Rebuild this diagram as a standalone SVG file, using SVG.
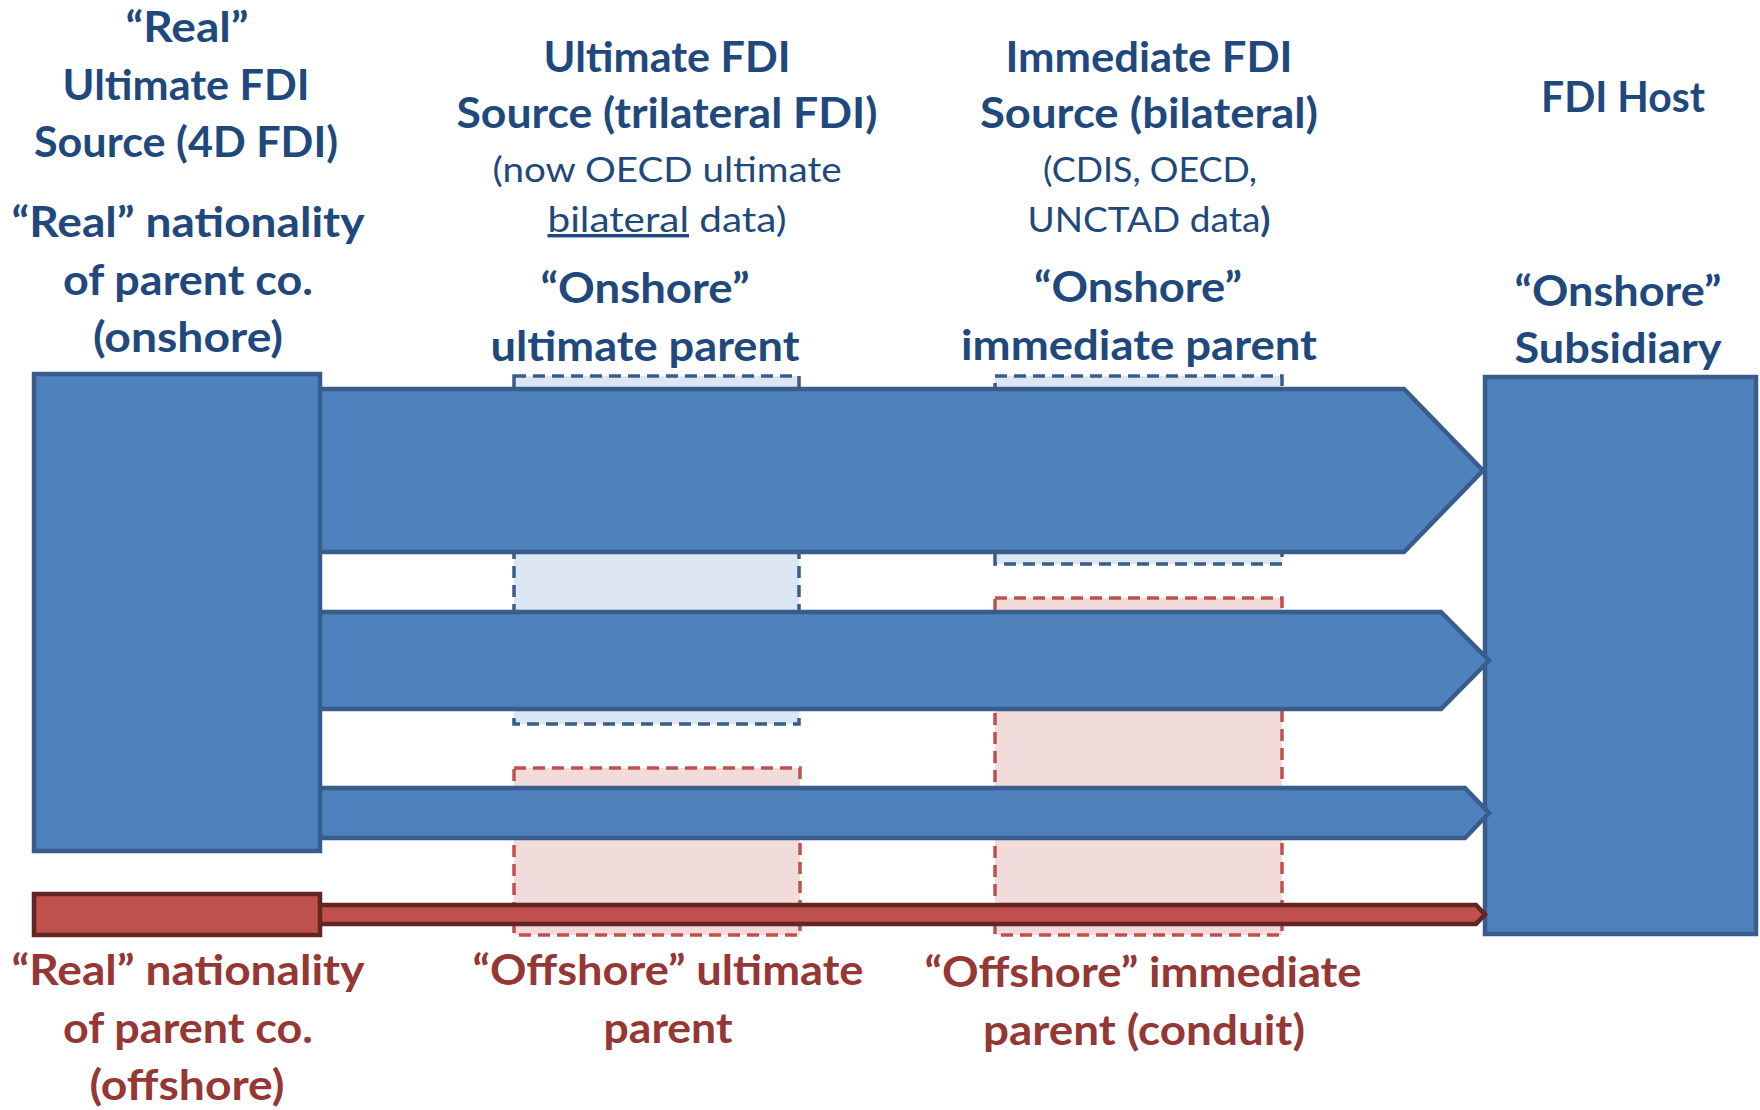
<svg xmlns="http://www.w3.org/2000/svg" width="1760" height="1110" viewBox="0 0 1760 1110">
<style>
.t{font-family:Lato,"Open Sans","Liberation Sans",sans-serif;font-weight:bold;font-size:42px;text-anchor:middle}
.b{fill:#1f497d}
.r{fill:#953735}
.s{font-weight:normal;font-size:34px}
.box{fill:#4f81bd;stroke:#385d8a;stroke-width:4.5}
.rbox{fill:#c0504d;stroke:#632523;stroke-width:4.5}
.dashb{fill:#dce6f2;stroke:#385d8a;stroke-width:3.5;stroke-dasharray:12 7}
.dashr{fill:#f2dcdb;stroke:#c0504d;stroke-width:3.5;stroke-dasharray:12 7}
</style>
<rect width="1760" height="1110" fill="#ffffff"/>
<g id="zone-ultimate-onshore"><rect class="dashb" x="514" y="376" width="285" height="348"/></g>
<g id="zone-immediate-onshore"><rect class="dashb" x="995" y="376" width="287" height="188"/></g>
<g id="zone-ultimate-offshore"><rect class="dashr" x="514" y="768" width="286" height="167"/></g>
<g id="zone-immediate-offshore"><rect class="dashr" x="995" y="598" width="287" height="337"/></g>
<g id="host-subsidiary"><rect class="box" x="1485" y="377" width="271" height="557"/></g>
<g id="connectors">
<polygon class="box" points="318,389 1404,389 1483,470.5 1404,552 318,552"/>
<polygon class="box" points="318,612 1441,612 1489,660.5 1441,709 318,709"/>
<polygon class="box" points="318,788 1465,788 1489,813 1465,838 318,838"/>
<polygon class="rbox" points="318,905 1476,905 1485,914.5 1476,924 318,924"/>
</g>
<g id="source-onshore"><rect class="box" x="34" y="374" width="286" height="477"/></g>
<g id="source-offshore"><rect class="rbox" x="34" y="894" width="286" height="41"/></g>
<g id="labels-left" class="t b">
<text x="187" y="42" textLength="123" lengthAdjust="spacingAndGlyphs">“Real”</text>
<text x="186" y="100" textLength="247" lengthAdjust="spacingAndGlyphs">Ultimate FDI</text>
<text x="186" y="157" textLength="304" lengthAdjust="spacingAndGlyphs">Source (4D FDI)</text>
<text x="188" y="237" textLength="353" lengthAdjust="spacingAndGlyphs">“Real” nationality</text>
<text x="188" y="295" textLength="250" lengthAdjust="spacingAndGlyphs">of parent co.</text>
<text x="188" y="352" textLength="190" lengthAdjust="spacingAndGlyphs">(onshore)</text>
</g>
<g id="labels-ultimate" class="t b">
<text x="667" y="72" textLength="247" lengthAdjust="spacingAndGlyphs">Ultimate FDI</text>
<text x="667" y="128" textLength="421" lengthAdjust="spacingAndGlyphs">Source (trilateral FDI)</text>
<text class="s" x="667" y="182" textLength="349" lengthAdjust="spacingAndGlyphs">(now OECD ultimate</text>
<text class="s" x="667" y="232" textLength="239" lengthAdjust="spacingAndGlyphs"><tspan style="text-decoration:underline">bilateral</tspan> data)</text>
<text x="645" y="303" textLength="209" lengthAdjust="spacingAndGlyphs">“Onshore”</text>
<text x="645" y="361" textLength="309" lengthAdjust="spacingAndGlyphs">ultimate parent</text>
</g>
<g id="labels-immediate" class="t b">
<text x="1149" y="72" textLength="287" lengthAdjust="spacingAndGlyphs">Immediate FDI</text>
<text x="1149" y="128" textLength="338" lengthAdjust="spacingAndGlyphs">Source (bilateral)</text>
<text class="s" x="1150" y="182" textLength="214" lengthAdjust="spacingAndGlyphs">(CDIS, OECD,</text>
<text class="s" x="1149" y="232" textLength="243" lengthAdjust="spacingAndGlyphs">UNCTAD data<tspan font-weight="bold">)</tspan></text>
<text x="1138" y="302" textLength="208" lengthAdjust="spacingAndGlyphs">“Onshore”</text>
<text x="1139" y="360" textLength="356" lengthAdjust="spacingAndGlyphs">immediate parent</text>
</g>
<g id="labels-host" class="t b">
<text x="1623" y="112" textLength="164" lengthAdjust="spacingAndGlyphs">FDI Host</text>
<text x="1618" y="306" textLength="207" lengthAdjust="spacingAndGlyphs">“Onshore”</text>
<text x="1618" y="363" textLength="207" lengthAdjust="spacingAndGlyphs">Subsidiary</text>
</g>
<g id="labels-offshore" class="t r">
<text x="188" y="985" textLength="353" lengthAdjust="spacingAndGlyphs">“Real” nationality</text>
<text x="188" y="1043" textLength="250" lengthAdjust="spacingAndGlyphs">of parent co.</text>
<text x="187" y="1100" textLength="195" lengthAdjust="spacingAndGlyphs">(offshore)</text>
<text x="668" y="985" textLength="391" lengthAdjust="spacingAndGlyphs">“Offshore” ultimate</text>
<text x="668" y="1043" textLength="129" lengthAdjust="spacingAndGlyphs">parent</text>
<text x="1143" y="987" textLength="437" lengthAdjust="spacingAndGlyphs">“Offshore” immediate</text>
<text x="1144" y="1045" textLength="322" lengthAdjust="spacingAndGlyphs">parent (conduit)</text>
</g>
</svg>
